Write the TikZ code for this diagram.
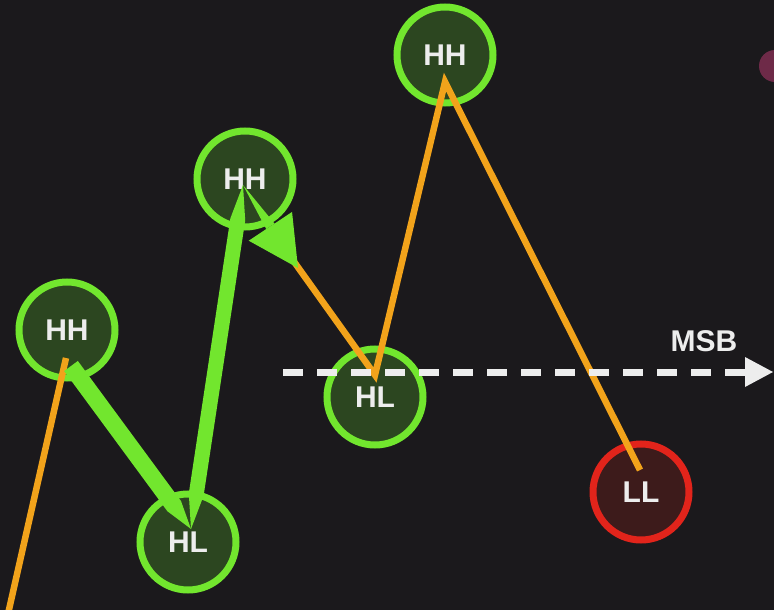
\documentclass[tikz,border=0pt]{standalone}
\usepackage{fontspec}
\setmainfont{Liberation Sans}
\usetikzlibrary{calc}
\definecolor{bg}{HTML}{1B191C}
\definecolor{gring}{HTML}{72E62E}
\definecolor{gfill}{HTML}{2C4620}
\definecolor{rring}{HTML}{E2241B}
\definecolor{rfill}{HTML}{3D1B1B}
\definecolor{orng}{HTML}{F2A31B}
\definecolor{txt}{HTML}{EDEDED}
\definecolor{pinkc}{HTML}{6E2A48}
\tikzset{
  pivot/.style={circle,minimum size=96pt,inner sep=0pt,line width=7pt,
     font=\fontsize{30}{31}\selectfont\bfseries,text=txt},
  gpivot/.style={pivot,draw=gring,fill=gfill},
  rpivot/.style={pivot,draw=rring,fill=rfill},
  orleg/.style={draw=orng,line width=6.5pt},
  msb/.style={draw=txt,line width=7pt,dash pattern=on 20pt off 14pt},
}
\begin{document}
\begin{tikzpicture}[x=1pt,y=-1pt]
\fill[bg] (0,0) rectangle (774,610);
\useasboundingbox (0,0) rectangle (774,610);
% watermark fragment
\fill[pinkc] (775,66) circle (16);
% circles
\node[gpivot] (hh1) at (67,330) {HH};
\node[gpivot] (hl1) at (188,542) {HL};
\node[gpivot] (hh2) at (245,179) {HH};
\node[gpivot] (hl2) at (375,397) {HL};
\node[gpivot] (hh3) at (445,55) {HH};
\node[rpivot] (ll) at (641,492) {LL};
% pivot points
\coordinate (p0) at (8,614);
\coordinate (p1) at (66,358);
\coordinate (p1g) at (71,366);
\coordinate (p2) at (191,529);
\coordinate (p3) at (243,185);
\coordinate (p4) at (298,268);
\coordinate (p5) at (375,375);
\coordinate (p6) at (445,82);
\coordinate (p7) at (640,470);
% orange legs
\draw[orleg,line cap=butt] (p0) -- (p1);
\draw[orleg,line join=miter] ($(p4)!12pt!(p3)$) -- (p5) -- (p6) -- (p7);
% green legs
\fill[gring] ($(p1g)!8.5pt!90:(p2)$) -- ($(p1g)!0.86!(p2)!8.5pt!90:(p2)$) -- (p2)
  -- ($(p1g)!0.86!(p2)!8.5pt!-90:(p2)$) -- ($(p1g)!8.5pt!-90:(p2)$) -- cycle;
\fill[gring] (p2) -- ($(p2)!0.1!(p3)!7.5pt!90:(p3)$) -- ($(p2)!0.9!(p3)!7.5pt!90:(p3)$) -- (p3)
  -- ($(p2)!0.9!(p3)!7.5pt!-90:(p3)$) -- ($(p2)!0.1!(p3)!7.5pt!-90:(p3)$) -- cycle;
% arrow from hh2
\coordinate (ab) at ($(p4)!50pt!(p3)$);
\fill[gring] (p3) -- ($(ab)!5pt!90:(p3)$) -- ($(ab)!5pt!-90:(p3)$) -- cycle;
\fill[gring] (p4) -- ($(ab)!26pt!90:(p4)$) -- ($(ab)!26pt!-90:(p4)$) -- cycle;
% MSB line
\coordinate (ms) at (283,372);
\coordinate (me) at (745,372);
\draw[msb] (ms) -- (me);
\fill[txt] (me) ++(0,-15) -- ++(28,15) -- ++(-28,15) -- cycle;
\node[font=\fontsize{30}{31}\selectfont\bfseries,text=txt] (msbl) at (704,341) {MSB};
\end{tikzpicture}
\end{document}
